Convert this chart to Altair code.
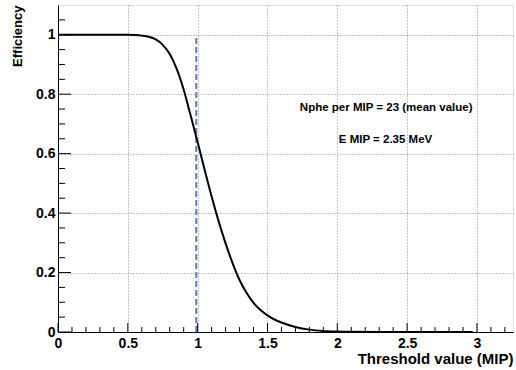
import altair as alt
import pandas as pd

# Efficiency curve
threshold = [0, 0.5, 0.55, 0.6, 0.65, 0.7, 0.75, 0.8, 0.85, 0.9, 0.95, 1.0, 1.05, 1.1,
             1.15, 1.2, 1.25, 1.3, 1.35, 1.4, 1.45, 1.5, 1.55, 1.6, 1.7, 1.8, 1.9, 2.0,
             2.1, 2.3, 2.97]
efficiency = [1, 1, 0.999, 0.997, 0.993, 0.984, 0.966, 0.935, 0.885, 0.815, 0.728, 0.638,
              0.546, 0.456, 0.373, 0.298, 0.232, 0.175, 0.132, 0.098, 0.074, 0.056, 0.042,
              0.032, 0.017, 0.008, 0.0035, 0.0015, 0.0005, 0, 0]

# Vertical dashed marker
marker_x = [0.99]
marker_y0 = [0]
marker_y1 = [1]

# Annotations
note_text = ["Nphe per MIP = 23 (mean value)", "E MIP = 2.35 MeV"]
note_x = [2.35, 2.345]
note_y = [0.753, 0.645]

# Axis ticks
x_major = [0, 0.5, 1, 1.5, 2, 2.5, 3]
x_minor = [0.1, 0.2, 0.3, 0.4, 0.6, 0.7, 0.8, 0.9, 1.1, 1.2, 1.3, 1.4, 1.6, 1.7, 1.8, 1.9,
           2.1, 2.2, 2.3, 2.4, 2.6, 2.7, 2.8, 2.9, 3.1, 3.2]
y_major = [0, 0.2, 0.4, 0.6, 0.8, 1]
y_minor = [0.05, 0.1, 0.15, 0.25, 0.3, 0.35, 0.45, 0.5, 0.55, 0.65, 0.7, 0.75, 0.85, 0.9,
           0.95, 1.05]

X_DOMAIN = [0, 3.258]
Y_DOMAIN = [0, 1.1]
W, H = 455, 327
FONT = "Liberation Sans"

xscale = alt.Scale(domain=X_DOMAIN, nice=False, zero=False)
yscale = alt.Scale(domain=Y_DOMAIN, nice=False, zero=False)

x_axis = alt.Axis(values=x_major, format="~g", grid=True, gridDash=[1, 2], gridColor="#888",
                  ticks=False, domainColor="black", labelFlush=False, labelPadding=4,
                  labelFont=FONT, labelFontSize=14, labelFontWeight="bold", labelColor="black",
                  title="Threshold value (MIP)", titleAnchor="end", titleAlign="right",
                  titleX=W, titleY=31, titleBaseline="alphabetic", titleFont=FONT,
                  titleFontSize=15, titleFontWeight="bold", titleColor="black")
y_axis = alt.Axis(values=y_major, format="~g", grid=True, gridDash=[1, 2], gridColor="#888",
                  ticks=False, domainColor="black", labelPadding=3,
                  labelFont=FONT, labelFontSize=14, labelFontWeight="bold", labelColor="black",
                  title="Efficiency", titleAngle=270, titleAlign="right", titleBaseline="middle",
                  titleX=-40.5, titleY=0, titleFont=FONT, titleFontSize=13,
                  titleFontWeight="bold", titleColor="black")

curve_df = pd.DataFrame({"x": threshold, "y": efficiency})
curve = alt.Chart(curve_df).mark_line(color="black", strokeWidth=2, interpolate="monotone").encode(
    x=alt.X("x:Q", scale=xscale, axis=x_axis),
    y=alt.Y("y:Q", scale=yscale, axis=y_axis),
)

marker_df = pd.DataFrame({"x": marker_x, "y": marker_y0, "y2": marker_y1})
marker = alt.Chart(marker_df).mark_rule(color="#5a7db5", strokeWidth=2, strokeDash=[6, 3]).encode(
    x=alt.X("x:Q", scale=xscale, axis=x_axis),
    y=alt.Y("y:Q", scale=yscale, axis=y_axis),
    y2="y2:Q",
)

note_df = pd.DataFrame({"x": note_x, "y": note_y, "t": note_text})
notes = alt.Chart(note_df).mark_text(font=FONT, fontSize=11.5, fontWeight="bold",
                                     color="black", align="center", baseline="middle").encode(
    x=alt.X("x:Q", scale=xscale, axis=x_axis),
    y=alt.Y("y:Q", scale=yscale, axis=y_axis),
    text="t:N",
)

def xticks(vals, length):
    df = pd.DataFrame({"x": vals})
    return alt.Chart(df).mark_rule(color="black", strokeWidth=1).encode(
        x=alt.X("x:Q", scale=xscale, axis=x_axis),
        y=alt.value(H), y2=alt.value(H - length),
    )

def yticks(vals, length):
    df = pd.DataFrame({"y": vals})
    return alt.Chart(df).mark_rule(color="black", strokeWidth=1).encode(
        y=alt.Y("y:Q", scale=yscale, axis=y_axis),
        x=alt.value(0), x2=alt.value(length),
    )

chart = alt.layer(
    marker, curve, notes,
    xticks(x_major, 9), xticks(x_minor, 5),
    yticks(y_major, 13), yticks(y_minor, 7),
).properties(
    width=W, height=H,
    autosize=alt.AutoSizeParams(type="none"),
    padding={"left": 58, "top": 5, "right": 3, "bottom": 38},
).configure_view(stroke="#888", strokeWidth=1).configure(background="white")

chart.save("out.html", embed_options={"renderer": "svg", "actions": False})
